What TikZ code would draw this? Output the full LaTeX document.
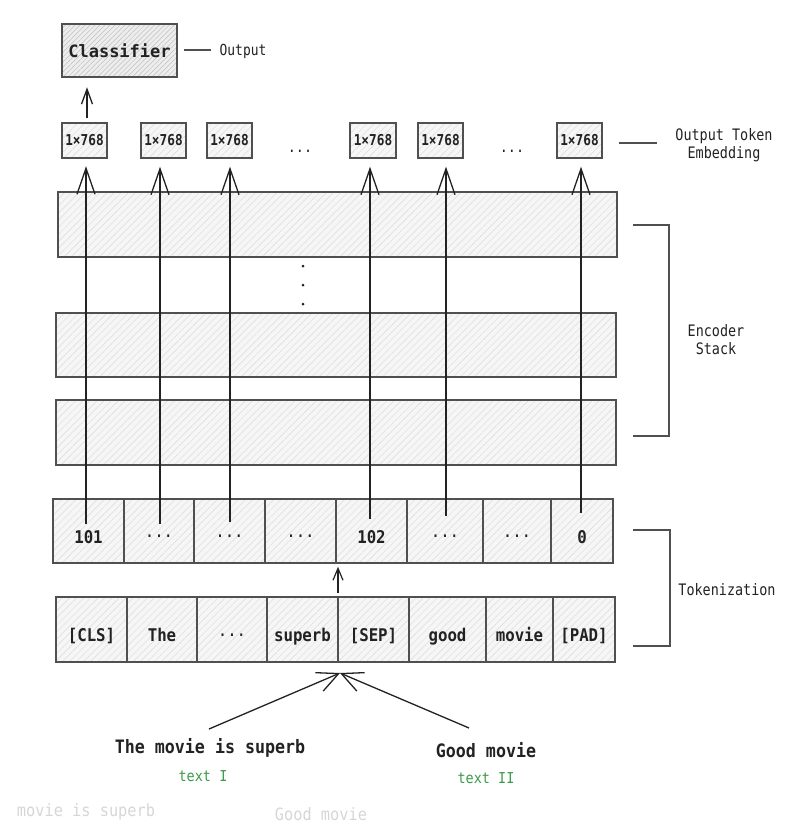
\documentclass[tikz,border=0pt]{standalone}
\usepackage{fontspec}
\newfontfamily\mono{DejaVu Sans Mono}
\newfontfamily\monoc[FakeStretch=0.85]{DejaVu Sans Mono}
\newfontfamily\monob[FakeStretch=0.9]{DejaVu Sans Mono}
\usetikzlibrary{arrows.meta,patterns.meta}
\definecolor{edge}{HTML}{505050}
\definecolor{ink}{HTML}{222222}
\definecolor{tgreen}{HTML}{3A9A4A}
\definecolor{ghost}{HTML}{D6D6D6}
\newcommand\celldots{{\mdseries\raisebox{0.3em}{...}}}
\tikzset{
  hatchbox/.style={draw=edge, line width=1.4pt, preaction={fill=gray!7},
    pattern={Lines[angle=45,distance=5pt,line width=0.45pt]}, pattern color=gray!28,
    inner sep=0pt, text=ink},
  darkbox/.style={draw=edge, line width=1.5pt, preaction={fill=gray!14},
    pattern={Lines[angle=45,distance=3.5pt,line width=0.5pt]}, pattern color=gray!50,
    inner sep=0pt, text=ink},
  cellbox/.style={hatchbox, minimum height=64pt, text height=25pt, text depth=1pt,
    font=\monob\bfseries\fontsize{17.5}{20}\selectfont},
  wordbox/.style={hatchbox, minimum height=65pt, text height=25pt, text depth=1pt,
    font=\monob\bfseries\fontsize{17.5}{20}\selectfont},
  embbox/.style={hatchbox, minimum width=45pt, minimum height=35pt,
    font=\monoc\bfseries\fontsize{15}{17}\selectfont},
  lbl/.style={text=ink, font=\monoc\fontsize{15.8}{18}\selectfont, inner sep=0pt},
  bigarr/.style={draw=ink, line width=1.3pt, -{Straight Barb[length=26pt,width=18pt]}},
  midarr/.style={draw=ink, line width=1.3pt, -{Straight Barb[length=15pt,width=11pt]}},
  smallarr/.style={draw=ink, line width=1.2pt, -{Straight Barb[length=12pt,width=10pt]}},
  joinarr/.style={draw=ink, line width=1.3pt, -{Straight Barb[length=21pt,width=20pt]}},
  bracket/.style={draw=edge, line width=1.3pt},
}
\begin{document}
\begin{tikzpicture}[x=1pt,y=-1pt]
\useasboundingbox (0,0) rectangle (801,823);

% classifier
\node[darkbox, minimum width=115pt, minimum height=53pt,
  font=\mono\bfseries\fontsize{17}{20}\selectfont] (cls) at (119.5,50.5) {Classifier};
\node[lbl, font=\monoc\fontsize{15.2}{18}\selectfont] (out) at (243,51) {Output};
\coordinate (cl1) at (184,50);
\coordinate (cl2) at (211,50);
\draw[bracket] (cl1) -- (cl2);

% output token embeddings
\node[embbox] (o1) at (84.5,140.5) {1×768};
\node[embbox] (o2) at (163.5,140.5) {1×768};
\node[embbox] (o3) at (229.5,140.5) {1×768};
\node[lbl] (d1) at (300,151) {...};
\node[embbox, minimum width=46pt] (o4) at (373,140.5) {1×768};
\node[embbox] (o5) at (440.5,140.5) {1×768};
\node[lbl] (d2) at (512,151) {...};
\node[embbox] (o6) at (579.5,140.5) {1×768};
\node[lbl, align=center] (ote) at (724,145) {Output Token\\Embedding};
\coordinate (oe1) at (619,143);
\coordinate (oe2) at (657,143);
\draw[bracket] (oe1) -- (oe2);

% encoder stack
\node[hatchbox, minimum width=559pt, minimum height=65pt] (e1) at (337.5,224.5) {};
\node[hatchbox, minimum width=560pt, minimum height=64pt] (e2) at (336,345) {};
\node[hatchbox, minimum width=560pt, minimum height=65pt] (e3) at (336,432.5) {};
\foreach \yy in {266,285,304} \fill[ink] (303,\yy) circle (1.5pt);
\node[lbl, align=center] (enc) at (716,340) {Encoder\\Stack};
\coordinate (b1) at (633,225);
\coordinate (b2) at (669,225);
\coordinate (b3) at (669,436);
\coordinate (b4) at (633,436);
\draw[bracket] (b1) -- (b2) -- (b3) -- (b4);

% token ids
\node[cellbox, minimum width=71pt] (t1) at (88.5,531) {101};
\node[cellbox, minimum width=70pt] (t2) at (159,531) {\celldots};
\node[cellbox, minimum width=71pt] (t3) at (229.5,531) {\celldots};
\node[cellbox, minimum width=71pt] (t4) at (300.5,531) {\celldots};
\node[cellbox, minimum width=71pt] (t5) at (371.5,531) {102};
\node[cellbox, minimum width=76pt] (t6) at (445,531) {\celldots};
\node[cellbox, minimum width=68pt] (t7) at (517,531) {\celldots};
\node[cellbox, minimum width=62pt] (t8) at (582,531) {0};

% words
\node[wordbox, minimum width=71pt] (w1) at (91.5,629.5) {[CLS]};
\node[wordbox, minimum width=70pt] (w2) at (162,629.5) {The};
\node[wordbox, minimum width=70pt] (w3) at (232,629.5) {\celldots};
\node[wordbox, minimum width=71pt] (w4) at (302.5,629.5) {superb};
\node[wordbox, minimum width=71pt] (w5) at (373.5,629.5) {[SEP]};
\node[wordbox, minimum width=77pt] (w6) at (447.5,629.5) {good};
\node[wordbox, minimum width=67pt] (w7) at (519.5,629.5) {movie};
\node[wordbox, minimum width=62pt] (w8) at (584,629.5) {[PAD]};

\node[lbl] (tok) at (727,590) {Tokenization};
\coordinate (k1) at (633,530);
\coordinate (k2) at (670,530);
\coordinate (k3) at (670,646);
\coordinate (k4) at (633,646);
\draw[bracket] (k1) -- (k2) -- (k3) -- (k4);

% arrows token ids -> embeddings
\coordinate (a1) at (86,524);
\coordinate (a2) at (160,524);
\coordinate (a3) at (230,522);
\coordinate (a4) at (370,519);
\coordinate (a5) at (446,516);
\coordinate (a6) at (581,513);
\draw[bigarr, shorten >=8pt] (a1) -- (a1 |- o1.south);
\draw[bigarr, shorten >=8pt] (a2) -- (a2 |- o2.south);
\draw[bigarr, shorten >=8pt] (a3) -- (a3 |- o3.south);
\draw[bigarr, shorten >=8pt] (a4) -- (a4 |- o4.south);
\draw[bigarr, shorten >=8pt] (a5) -- (a5 |- o5.south);
\draw[bigarr, shorten >=8pt] (a6) -- (a6 |- o6.south);

% embedding -> classifier
\coordinate (c1) at (87,118);
\draw[midarr, shorten >=10pt] (c1) -- (c1 |- cls.south);

% words -> token ids
\coordinate (m1) at (338,593);
\draw[smallarr, shorten >=3pt] (m1) -- (m1 |- t5.south);

% input texts
\node[text=ink, font=\monob\bfseries\fontsize{18.5}{21}\selectfont, inner sep=0pt] (s1) at (210,748) {The movie is superb};
\node[text=ink, font=\monob\bfseries\fontsize{18.5}{21}\selectfont, inner sep=0pt] (s2) at (486,750) {Good movie};
\node[text=tgreen, font=\monob\fontsize{15}{18}\selectfont, inner sep=0pt] (g1) at (203,776) {text I};
\node[text=tgreen, font=\monob\fontsize{15}{18}\selectfont, inner sep=0pt] (g2) at (486,778) {text II};
\coordinate (jt) at (340,673);
\coordinate (ls) at (209,729);
\coordinate (rs) at (469,728);
\draw[joinarr] (ls) -- (jt);
\draw[joinarr] (rs) -- (jt);

% faint background text
\node[text=ghost, font=\monob\fontsize{17}{20}\selectfont, inner sep=0pt] (h1) at (86,812) {movie is superb};
\node[text=ghost, font=\monob\fontsize{17}{20}\selectfont, inner sep=0pt] (h2) at (321,814) {Good movie};
\end{tikzpicture}
\end{document}
